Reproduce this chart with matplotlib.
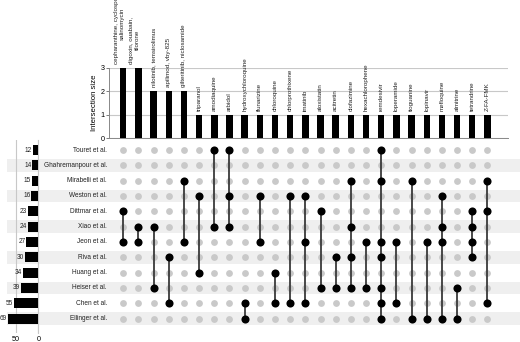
import matplotlib
matplotlib.use("Agg")
import matplotlib.pyplot as plt

# ---------- DATA ------------
sets = ["Touret et al.", "Ghahremanpour et al.", "Mirabelli et al.", "Weston et al.",
        "Dittmar et al.", "Xiao et al.", "Jeon et al.", "Riva et al.",
        "Huang et al.", "Heiser et al.", "Chen et al.", "Ellinger et al."]
set_sizes = [12, 14, 15, 16, 23, 24, 27, 30, 34, 39, 55, 69]

drug_labels = ["cepharanthine, cyclosporine,\nsalinomycin", "digoxin, ouabain,\ntilorone",
               "nilotinib, temsirolimus", "apilimod, vby-825", "gilteritinib, niclosamide",
               "triparanol", "amodiaquine", "arbidol", "hydroxychloroquine", "flunarizine",
               "chloroquine", "chlorprothixene", "imatinib", "aloxistatin", "acitretin",
               "clofazimine", "hexachlorophene", "remdesivir", "loperamide", "tioguanine",
               "lopinavir", "mefloquine", "almitrine", "tetrandrine", "Z-FA-FMK"]
inter_sizes = [3, 3, 2, 2, 2] + [1] * 20
members = [
    ["Dittmar et al.", "Jeon et al."],
    ["Xiao et al.", "Jeon et al."],
    ["Xiao et al.", "Heiser et al."],
    ["Riva et al.", "Chen et al."],
    ["Mirabelli et al.", "Jeon et al."],
    ["Weston et al.", "Huang et al."],
    ["Touret et al.", "Xiao et al."],
    ["Touret et al.", "Weston et al.", "Xiao et al."],
    ["Chen et al.", "Ellinger et al."],
    ["Weston et al.", "Jeon et al."],
    ["Huang et al.", "Chen et al."],
    ["Weston et al.", "Chen et al."],
    ["Weston et al.", "Jeon et al.", "Chen et al."],
    ["Dittmar et al.", "Heiser et al."],
    ["Riva et al.", "Heiser et al."],
    ["Mirabelli et al.", "Xiao et al.", "Riva et al.", "Heiser et al."],
    ["Jeon et al.", "Heiser et al."],
    ["Touret et al.", "Mirabelli et al.", "Jeon et al.", "Riva et al.",
     "Heiser et al.", "Chen et al.", "Ellinger et al."],
    ["Jeon et al.", "Chen et al."],
    ["Mirabelli et al.", "Ellinger et al."],
    ["Jeon et al.", "Ellinger et al."],
    ["Weston et al.", "Xiao et al.", "Jeon et al.", "Ellinger et al."],
    ["Heiser et al.", "Ellinger et al."],
    ["Dittmar et al.", "Xiao et al.", "Jeon et al.", "Riva et al."],
    ["Mirabelli et al.", "Dittmar et al.", "Chen et al."],
]

# ---------- CONFIG ------------
plt.rcParams['font.family'] = ['Liberation Sans', 'DejaVu Sans']
W, H = 520, 342
col0, step = 123.3, 15.17      # pixel position of first column, column spacing
row0, rstep = 150.0, 15.33     # pixel position of first row, row spacing
grey_dot = "#c9c9c9"
grid_c = "#c8c8c8"


def px_axes(fig, L, T, R, B):
    return fig.add_axes([L / W, 1 - B / H, (R - L) / W, (B - T) / H])


def xl(L, R):
    return ((L - col0) / step, (R - col0) / step)


def yl(T, B):
    return ((B - row0) / rstep, (T - row0) / rstep)


fig = plt.figure(figsize=(W / 100, H / 100), dpi=100)

n_sets = len(sets)
n_cols = len(drug_labels)

# ---------- matrix ------------
axm = px_axes(fig, 7, 142, 520, 326)
axm.set_xlim(*xl(7, 520))
axm.set_ylim(*yl(142, 326))
axm.axis("off")
for i, s in enumerate(sets):
    if i % 2 == 1:
        axm.axhspan(i - 0.42, i + 0.42, color="#efefef", lw=0, zorder=0)
    axm.text((107 - col0) / step, i, s, ha="right", va="center", fontsize=4.7, color="#222222")
    axm.scatter(range(n_cols), [i] * n_cols, s=24, color=grey_dot, lw=0, zorder=2)

for j, mem in enumerate(members):
    rows = [sets.index(m) for m in mem]
    axm.plot([j, j], [min(rows), max(rows)], color="#3a3a3a", lw=1.3, zorder=3)
    axm.scatter([j] * len(rows), rows, s=34, color="black", lw=0, zorder=4)

# ---------- intersection sizes ------------
axb = px_axes(fig, 109, 67.7, 508, 138.3)
axb.set_xlim(*xl(109, 508))
axb.set_ylim(0, 3)
axb.bar(range(n_cols), inter_sizes, width=0.42, color="black", zorder=3)
axb.set_yticks([0, 1, 2, 3])
axb.set_xticks([])
axb.tick_params(axis="y", labelsize=5.2, length=2, pad=1, width=0.6, color="#666666")
axb.yaxis.grid(True, color=grid_c, lw=0.8)
axb.set_axisbelow(True)
for side in ["top", "right"]:
    axb.spines[side].set_visible(False)
axb.spines["left"].set_color("#888888")
axb.spines["bottom"].set_color("#888888")
axb.spines["left"].set_linewidth(0.7)
axb.spines["bottom"].set_linewidth(0.7)
axb.set_ylabel("Intersection size", fontsize=5.6, labelpad=2)
for j, (lab, h) in enumerate(zip(drug_labels, inter_sizes)):
    nl = lab.count("\n")
    axb.annotate(lab, (j, h), xytext=(-nl * 2.7, 3), textcoords="offset points",
                 rotation=90, ha="center", va="bottom", fontsize=4.5,
                 color="#222222", annotation_clip=False)

# ---------- set sizes ------------
axs = px_axes(fig, 0, 140, 38.3, 333)
axs.set_xlim(85.9, 0)
axs.set_ylim(*yl(140, 333))
axs.set_facecolor("none")
axs.barh(range(n_sets), set_sizes, height=0.65, color="black", zorder=3)
for i, v in enumerate(set_sizes):
    axs.annotate(str(v), (v, i), xytext=(-0.5, 0), textcoords="offset points",
                 ha="right", va="center", fontsize=4.7, color="#222222",
                 annotation_clip=False)
axs.set_xticks([50, 0])
axs.set_yticks([])
axs.xaxis.grid(True, color=grid_c, lw=0.8)
axs.set_axisbelow(True)
axs.tick_params(axis="x", labelsize=5.2, length=0, pad=2)
for side in ["top", "left", "bottom"]:
    axs.spines[side].set_visible(False)
axs.spines["right"].set_color(grid_c)
axs.spines["right"].set_linewidth(0.8)

fig.savefig("out.png", dpi=100)
